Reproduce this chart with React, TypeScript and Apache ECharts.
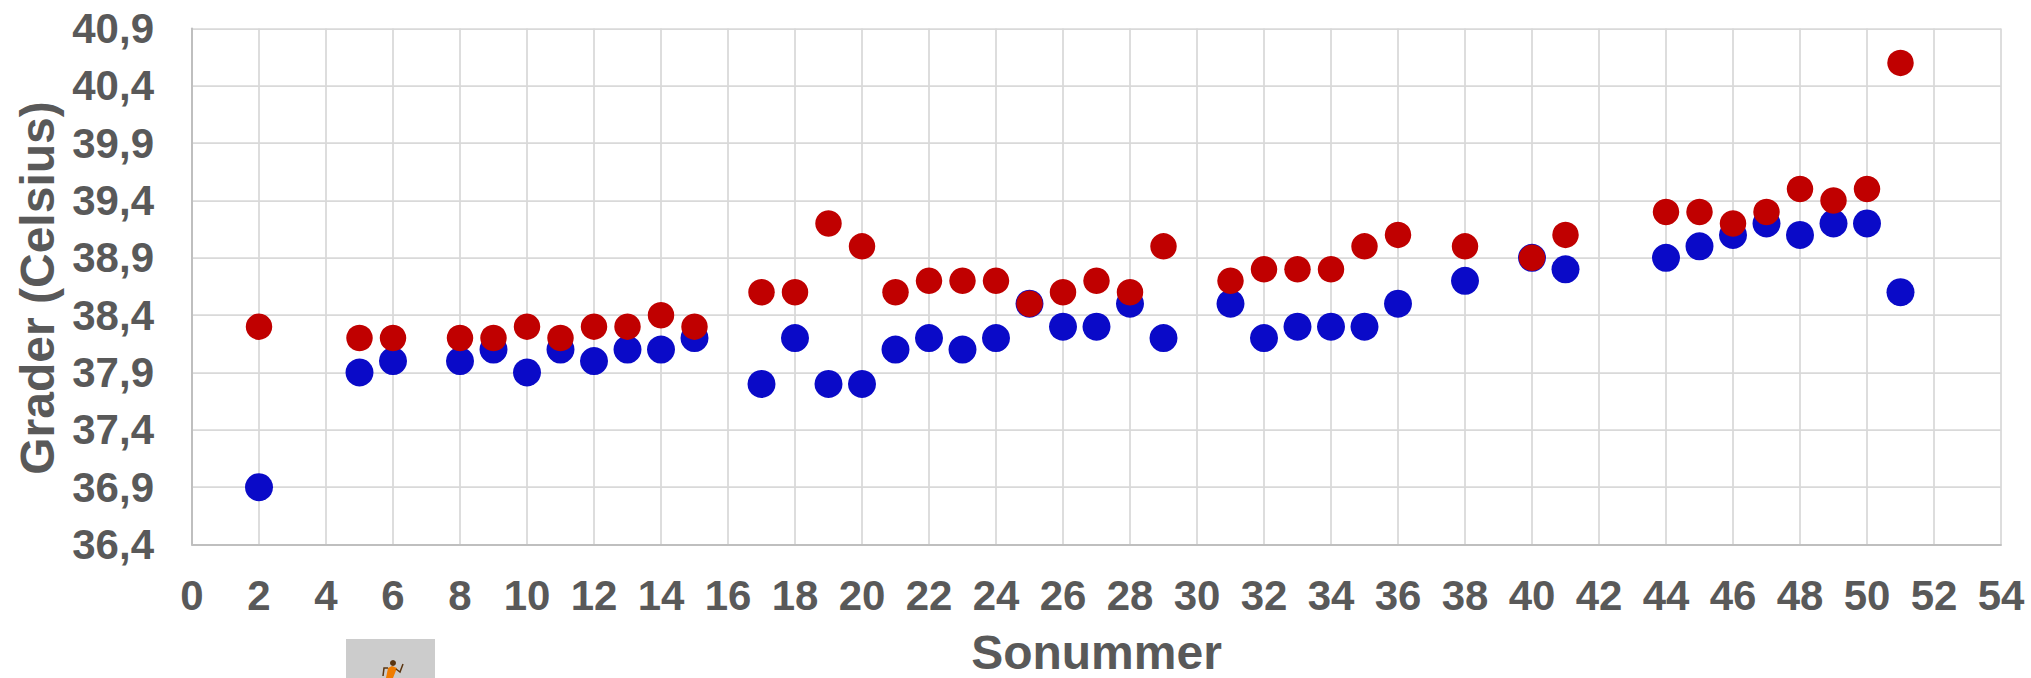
import React, { useEffect, useRef } from "react";
import * as echarts from "echarts";

const weeks = [2, 5, 6, 8, 9, 10, 11, 12, 13, 14, 15, 17, 18, 19, 20, 21, 22, 23, 24, 25, 26, 27, 28, 29, 31, 32, 33, 34, 35, 36, 38, 40, 41, 44, 45, 46, 47, 48, 49, 50, 51];
const blueValues = [36.9, 37.9, 38.0, 38.0, 38.1, 37.9, 38.1, 38.0, 38.1, 38.1, 38.2, 37.8, 38.2, 37.8, 37.8, 38.1, 38.2, 38.1, 38.2, 38.5, 38.3, 38.3, 38.5, 38.2, 38.5, 38.2, 38.3, 38.3, 38.3, 38.5, 38.7, 38.9, 38.8, 38.9, 39.0, 39.1, 39.2, 39.1, 39.2, 39.2, 38.6];
const redValues = [38.3, 38.2, 38.2, 38.2, 38.2, 38.3, 38.2, 38.3, 38.3, 38.4, 38.3, 38.6, 38.6, 39.2, 39.0, 38.6, 38.7, 38.7, 38.7, 38.5, 38.6, 38.7, 38.6, 39.0, 38.7, 38.8, 38.8, 38.8, 39.0, 39.1, 39.0, 38.9, 39.1, 39.3, 39.3, 39.2, 39.3, 39.5, 39.4, 39.5, 40.6];
const xTitle = "Sonummer";
const yTitle = "Grader (Celsius)";
const FONT = "'Liberation Sans', Arial, sans-serif";
const TEXT = "#595959";
const GRID = "#d9d9d9";

export default function App() {
  const ref = useRef<HTMLDivElement>(null);
  useEffect(() => {
    document.body.style.margin = "0";
    const chart = echarts.init(ref.current!, undefined, { renderer: "svg" });
    const pair = (vals: number[]) => weeks.map((w, i) => [w, vals[i]]);
    chart.setOption({
      animation: false,
      backgroundColor: "#ffffff",
      grid: { left: 192, right: 30, top: 28.5, bottom: 133.5, containLabel: false, outerBoundsMode: "none" },
      xAxis: {
        type: "value", min: 0, max: 54, interval: 2,
        name: xTitle, nameLocation: "middle", nameGap: 84,
        nameTextStyle: { fontFamily: FONT, fontWeight: "bold", fontSize: 48, color: TEXT },
        axisLabel: { fontFamily: FONT, fontWeight: "bold", fontSize: 42, color: TEXT, margin: 30, hideOverlap: false, showMinLabel: true, showMaxLabel: true },
        axisLine: { show: true, onZero: false, lineStyle: { color: "#bfbfbf", width: 2 } },
        axisTick: { show: false },
        splitLine: { show: true, lineStyle: { color: GRID, width: 1.75 } },
      },
      yAxis: {
        type: "value", min: 36.4, max: 40.9, interval: 0.5,
        name: yTitle, nameLocation: "middle", nameGap: 129, nameRotate: 90,
        nameTextStyle: { fontFamily: FONT, fontWeight: "bold", fontSize: 48, color: TEXT, padding: [0, 3, 0, 0] },
        axisLabel: {
          fontFamily: FONT, fontWeight: "bold", fontSize: 42, color: TEXT, margin: 38,
          showMinLabel: true, showMaxLabel: true,
          formatter: (v: number) => v.toFixed(1).replace(".", ","),
        },
        axisLine: { show: true, onZero: false, lineStyle: { color: "#bfbfbf", width: 2 } },
        axisTick: { show: false },
        splitLine: { show: true, lineStyle: { color: GRID, width: 1.75 } },
      },
      series: [
        { type: "scatter", name: "Blå", data: pair(blueValues), symbol: "circle", symbolSize: 28, z: 3, itemStyle: { color: "#0a0ac8", opacity: 1 } },
        { type: "scatter", name: "Röd", data: pair(redValues), symbol: "circle", symbolSize: 26.5, z: 4, itemStyle: { color: "#c00000", opacity: 1 } },
      ],
      graphic: [
        { type: "rect", shape: { x: 346, y: 639, width: 89, height: 39 }, style: { fill: "#cccccc" }, silent: true },
        { type: "polygon", shape: { points: [[388, 668], [392, 666], [397, 668], [393, 678], [386, 678]] }, style: { fill: "#f07c00" }, silent: true },
        { type: "circle", shape: { cx: 393, cy: 663, r: 3 }, style: { fill: "#5a3510" }, silent: true },
        { type: "polyline", shape: { points: [[388, 668], [384, 668], [383, 676]] }, style: { stroke: "#5a3510", lineWidth: 1.5, fill: "none" }, silent: true },
        { type: "polyline", shape: { points: [[396, 669], [400, 672], [403, 664]] }, style: { stroke: "#5a3510", lineWidth: 1.5, fill: "none" }, silent: true },
      ],
    });
    return () => chart.dispose();
  }, []);
  return <div ref={ref} style={{ width: 2031, height: 678 }} />;
}
